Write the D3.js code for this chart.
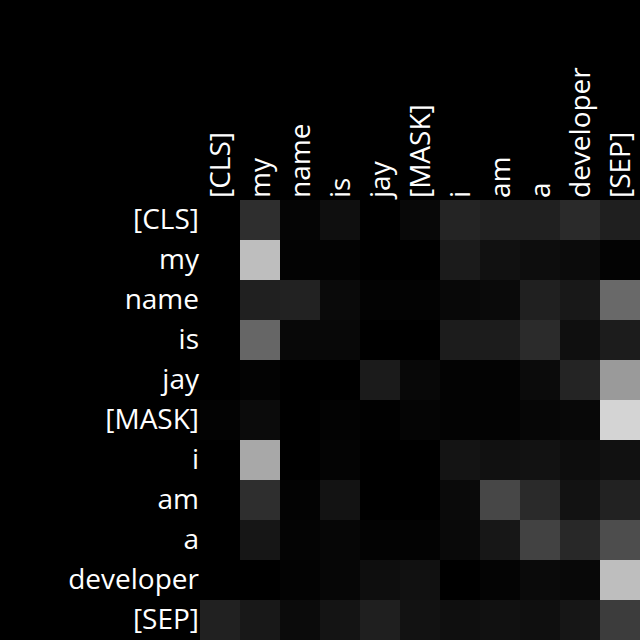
<!DOCTYPE html>
<html><head><meta charset="utf-8">
<script src="https://cdn.jsdelivr.net/npm/d3@7"></script>
<style>html,body{margin:0;padding:0;background:#000;}svg{display:block;}</style>
</head><body>
<script>
const tokens = ["[CLS]","my","name","is","jay","[MASK]","i","am","a","developer","[SEP]"];
// attention weights (row = query token, column = key token), read from gray level
const row_CLS = [0.00,0.18,0.02,0.06,0.00,0.03,0.14,0.125,0.125,0.165,0.12];
const row_my = [0.00,0.745,0.01,0.01,0.00,0.00,0.105,0.065,0.05,0.045,0.01];
const row_name = [0.00,0.125,0.135,0.04,0.01,0.01,0.03,0.04,0.125,0.095,0.41];
const row_is = [0.00,0.40,0.03,0.03,0.00,0.00,0.11,0.11,0.17,0.06,0.11];
const row_jay = [0.00,0.01,0.00,0.00,0.105,0.03,0.01,0.01,0.045,0.14,0.605];
const row_MASK = [0.01,0.045,0.00,0.01,0.005,0.02,0.01,0.01,0.025,0.03,0.83];
const row_i = [0.00,0.66,0.00,0.015,0.00,0.00,0.08,0.065,0.07,0.05,0.065];
const row_am = [0.00,0.18,0.01,0.075,0.00,0.00,0.04,0.28,0.165,0.07,0.135];
const row_a = [0.00,0.085,0.015,0.025,0.01,0.01,0.035,0.09,0.26,0.155,0.30];
const row_developer = [0.00,0.00,0.01,0.025,0.055,0.065,0.00,0.015,0.04,0.03,0.745];
const row_SEP = [0.13,0.095,0.045,0.08,0.12,0.07,0.06,0.065,0.06,0.085,0.235];
const matrix = [row_CLS,row_my,row_name,row_is,row_jay,row_MASK,row_i,row_am,row_a,row_developer,row_SEP];

(function () {
const W = 640, H = 640;
const gLeft = 200, gTop = 200, size = 440;
const svg = d3.select("body").append("svg").attr("width", W).attr("height", H)
  .style("background", "#000");
svg.append("rect").attr("width", W).attr("height", H).attr("fill", "#000");

const x = d3.scaleBand().domain(tokens).range([gLeft, gLeft + size]);
const y = d3.scaleBand().domain(tokens).range([gTop, gTop + size]);
const color = d3.scaleLinear().domain([0, 1]).range(["#000000", "#ffffff"]);

const cells = [];
matrix.forEach((row, i) => row.forEach((v, j) => cells.push({r: tokens[i], c: tokens[j], v})));
svg.append("g").selectAll("rect").data(cells).join("rect")
  .attr("x", d => x(d.c)).attr("y", d => y(d.r))
  .attr("width", x.bandwidth()).attr("height", y.bandwidth())
  .attr("fill", d => color(d.v)).attr("shape-rendering", "crispEdges");

const font = "'Open Sans', 'Noto Sans', sans-serif";
const yAxis = svg.append("g").attr("transform", `translate(${gLeft},0)`)
  .call(d3.axisLeft(y).tickSize(0).tickPadding(1));
yAxis.select(".domain").remove();
yAxis.selectAll("text").attr("fill", "#fff").style("font-family", font).style("font-size", "28px");

const xAxis = svg.append("g").attr("transform", `translate(0,${gTop})`)
  .call(d3.axisTop(x).tickSize(0).tickPadding(0));
xAxis.select(".domain").remove();
xAxis.selectAll("text").attr("fill", "#fff").style("font-family", font).style("font-size", "28px")
  .attr("transform", "rotate(-90)").attr("text-anchor", "start")
  .attr("x", 2).attr("y", 0).attr("dy", "0.35em");
})();
</script>
</body></html>
